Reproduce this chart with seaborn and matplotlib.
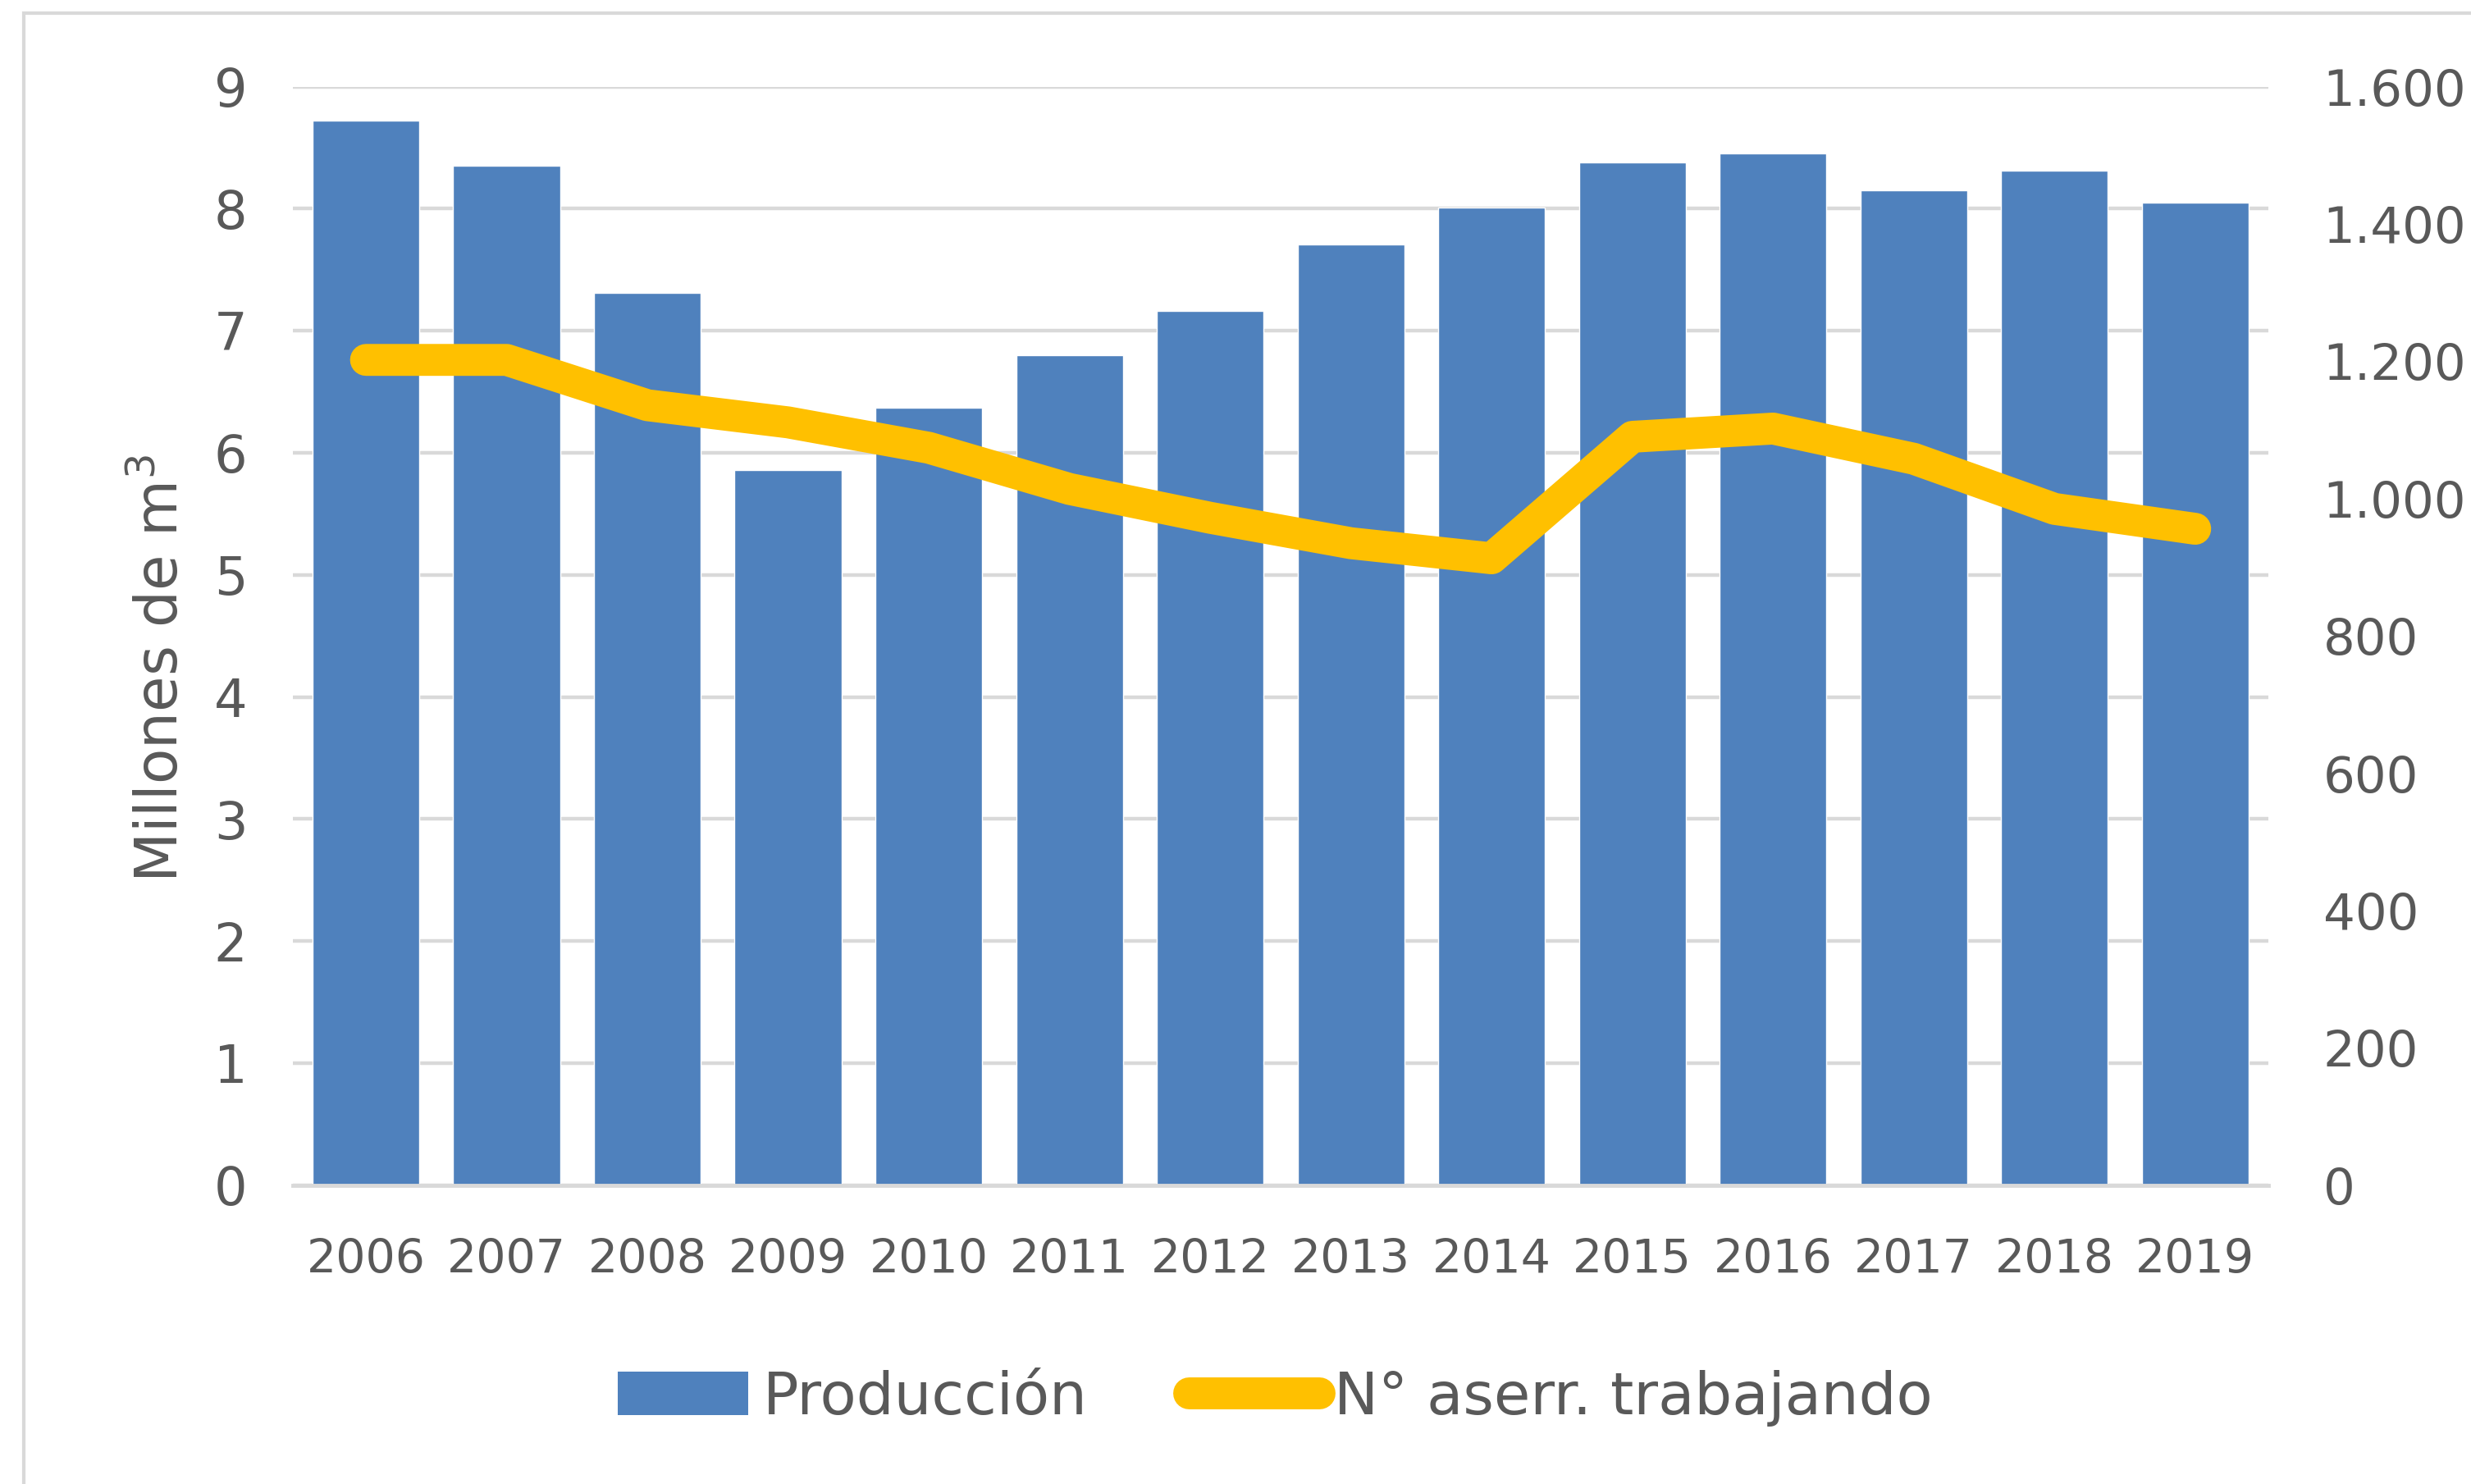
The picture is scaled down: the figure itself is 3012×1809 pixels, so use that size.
import numpy as np
import pandas as pd
import seaborn as sns
import matplotlib.pyplot as plt
from matplotlib.patches import Patch, Rectangle
from matplotlib.lines import Line2D
from matplotlib.ticker import FuncFormatter

years = ["2006", "2007", "2008", "2009", "2010", "2011", "2012",
         "2013", "2014", "2015", "2016", "2017", "2018", "2019"]
produccion = [8.72, 8.35, 7.31, 5.86, 6.37, 6.80, 7.16,
              7.71, 8.01, 8.38, 8.45, 8.15, 8.31, 8.05]
aserraderos = [1202, 1202, 1136, 1111, 1074, 1014, 972,
               935, 913, 1090, 1102, 1058, 985, 956]

left_ticks = list(range(0, 10))
right_ticks = [0, 200, 400, 600, 800, 1000, 1200, 1400, 1600]

blue = "#4F81BD"
yellow = "#FFC000"
grid_c = "#D9D9D9"
text_c = "#595959"

sns.set_theme(style="white")
plt.rcParams['font.family'] = ['DejaVu Sans']

df = pd.DataFrame({"year": years, "prod": produccion, "aserr": aserraderos})

fig = plt.figure(figsize=(30.12, 18.09), dpi=100)
fig.subplots_adjust(left=0.1185, right=0.918, top=0.9416, bottom=0.2014)
ax = fig.add_subplot(111)

sns.barplot(data=df, x="year", y="prod", color=blue, width=0.76,
            saturation=1, ax=ax, zorder=2)
ax.set_ylim(0, 9)
ax.set_yticks(left_ticks)
ax.yaxis.grid(True, color=grid_c, linewidth=3.2, zorder=0)
ax.set_axisbelow(True)
ax.set_xlabel("")
ax.set_ylabel("Millones de m$^3$", fontsize=51, color=text_c)
ax.yaxis.set_label_coords(-0.052, 0.47)
ax.tick_params(axis="y", length=0, labelsize=46, labelcolor=text_c, pad=40)
ax.tick_params(axis="x", length=0, labelsize=41, labelcolor=text_c, pad=46)
for s in ["top", "left", "right"]:
    ax.spines[s].set_visible(False)
ax.spines["bottom"].set_color(grid_c)
ax.spines["bottom"].set_linewidth(3.5)

ax2 = ax.twinx()
sns.pointplot(data=df, x="year", y="aserr", ax=ax2, color=yellow,
              markers="", linewidth=28, solid_capstyle="round", zorder=3)
ax2.set_ylim(0, 1600)
ax2.set_yticks(right_ticks)
ax2.yaxis.set_major_formatter(FuncFormatter(lambda v, p: f"{int(v):,}".replace(",", ".")))
ax2.set_ylabel("")
ax2.tick_params(axis="y", length=0, labelsize=44, labelcolor=text_c, pad=48)
for s in ["top", "left", "right", "bottom"]:
    ax2.spines[s].set_visible(False)
ax.set_xlim(-0.52, 13.52)

handles = [Patch(facecolor=blue, edgecolor="none"),
           Line2D([0], [0], color=yellow, linewidth=28, solid_capstyle="round")]
fig.legend(handles, ["Producción", "N° aserr. trabajando"], loc="center",
           bbox_to_anchor=(0.516, 0.058), ncol=2, frameon=False, fontsize=52,
           labelcolor=text_c, handlelength=2.2, handleheight=0.75,
           handletextpad=0.25, columnspacing=1.7)

fig.patches.append(Rectangle((29 / 3012, -0.05), 1.1, 1.05 - 16 / 1809,
                             transform=fig.transFigure, fill=False,
                             edgecolor=grid_c, linewidth=3))

fig.savefig("out.png", dpi=100)
